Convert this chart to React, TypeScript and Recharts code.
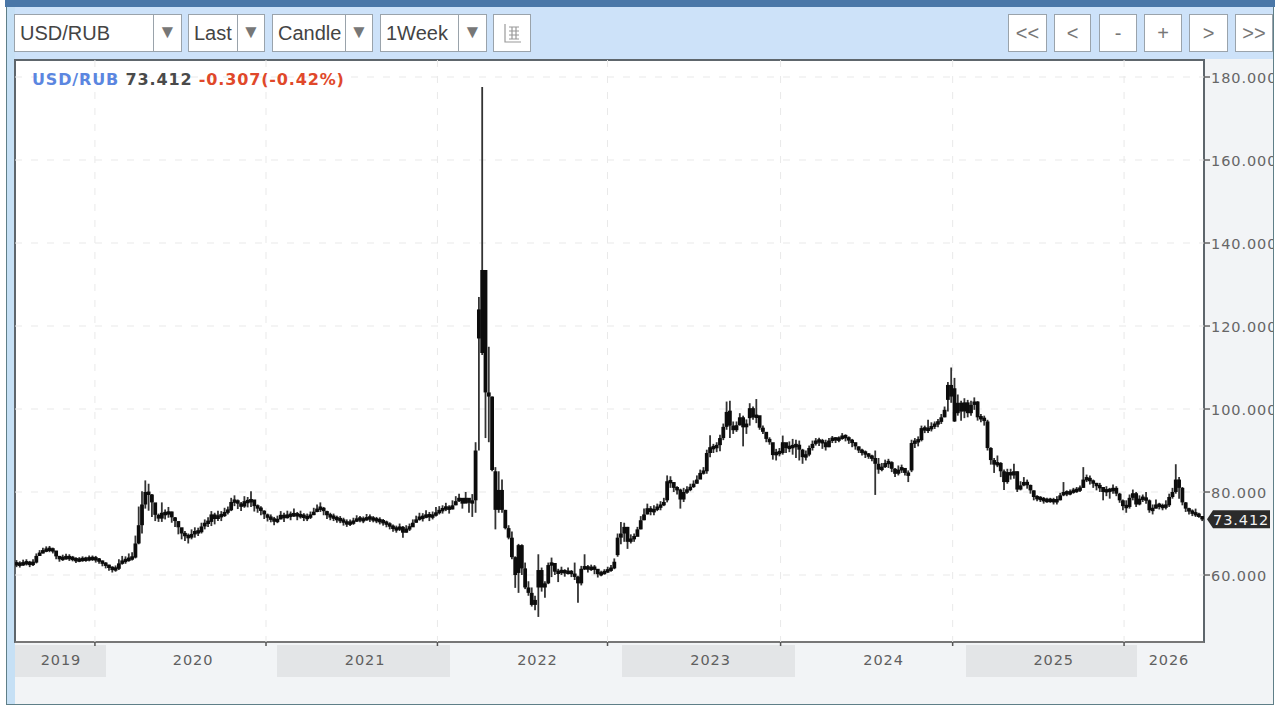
import { ComposedChart, Bar, XAxis, YAxis, CartesianGrid } from 'recharts';

// weekly closes, highs and lows, one block per calendar year
const closes2019 = [62.7, 62.5, 62.9, 63.0, 62.6, 63.0, 64.6, 65.4, 65.8, 66.2, 66.2, 65.9, 64.5, 63.9, 64.1, 64.3, 64.1, 63.9, 63.5, 63.7, 63.8, 63.8, 64.0, 64.0, 63.8];
const highs2019 = [63.6, 63.3, 63.7, 63.8, 63.4, 63.8, 65.2, 66.0, 66.6, 66.9, 67.0, 66.6, 65.8, 64.6, 64.9, 65.1, 65.0, 64.6, 64.3, 64.3, 64.5, 64.4, 64.7, 64.7, 64.6];
const lows2019 = [61.9, 61.8, 62.2, 62.3, 61.9, 62.2, 62.8, 64.6, 65.2, 65.5, 65.5, 65.2, 63.8, 63.2, 63.4, 63.7, 63.4, 63.3, 62.9, 63.1, 63.2, 63.2, 63.3, 63.4, 63.0];

const closes2020 = [63.4, 62.8, 62.4, 61.8, 61.4, 61.5, 62.8, 63.4, 63.6, 64.0, 64.2, 67.6, 72, 77, 80, 79.4, 77.5, 74.5, 73.6, 75, 74.6, 75.3, 73.9, 73, 71.5, 70, 69.5, 69, 69.9, 70.5, 70.3, 71.7, 72.6, 72.8, 74.6, 73.5, 74.4, 74.2, 75.2, 75.6, 77.6, 78, 77.2, 76.5, 77.8, 77.6, 78.2, 76.6, 76.2, 75.5, 74.6];
const highs2020 = [64.1, 63.5, 63.1, 62.5, 62.1, 62.3, 63.8, 64.6, 64.5, 65.2, 65.5, 69.5, 76.5, 80.2, 82.8, 82, 79.5, 76.5, 74.8, 77.5, 75.8, 76.4, 75.3, 74, 72.6, 71, 70.6, 70, 71, 71.5, 71.4, 72.6, 73.4, 73.9, 75.4, 75, 75.5, 75.4, 76.2, 76.5, 78.6, 79.2, 78.2, 77.6, 79, 78.8, 80.2, 77.9, 77, 76.6, 75.6];
const lows2020 = [62.7, 62.1, 61.6, 61, 60.6, 60.8, 61.2, 62.5, 62.7, 63.2, 63.5, 64, 67.4, 70, 76, 75.5, 74, 73, 72.8, 72.8, 73.4, 73.8, 72.6, 71.6, 69.8, 68.6, 68.2, 67.6, 68.6, 69, 69.4, 70, 71, 71.6, 71.8, 72.2, 73, 73, 74, 74.6, 75.4, 76.6, 75.9, 75.4, 76.2, 76.3, 76.4, 75.3, 75, 74.4, 73.5];

const closes2021 = [73.8, 73.6, 72.9, 73.4, 74.5, 73.7, 74.6, 74.2, 74.9, 74.1, 74.5, 73.8, 73.9, 74.5, 75.2, 76, 76.2, 75.4, 74.4, 74.1, 73.8, 73.4, 73.3, 72.7, 72.4, 72.6, 72.9, 73.6, 73.4, 73.2, 73.9, 73.6, 73.4, 73.2, 73, 72.7, 72.3, 71.8, 71.2, 71, 71.6, 70.2, 71.2, 71.5, 72.6, 73.4, 74, 73.8, 74.6, 74, 74.4, 75];
const highs2021 = [74.8, 74.6, 74, 74.3, 75.4, 75, 75.5, 75.3, 76, 75.2, 75.5, 74.9, 74.8, 75.3, 76.2, 77, 77.5, 76.4, 75.5, 75, 74.8, 74.3, 74.2, 73.8, 73.4, 73.4, 73.8, 74.4, 74.2, 74.1, 74.7, 74.6, 74.2, 74, 73.9, 73.5, 73.1, 72.7, 72.2, 71.9, 72.4, 71.8, 72, 72.4, 73.4, 74.3, 75, 74.9, 75.6, 75.2, 75.3, 76.4];
const lows2021 = [72.9, 72.7, 72, 72.5, 73.4, 72.8, 73.6, 73.2, 74, 73.2, 73.6, 73, 73, 73.5, 74.4, 75.1, 75.2, 74.4, 73.5, 73.2, 73, 72.6, 72.5, 71.9, 71.6, 71.8, 72.1, 72.8, 72.7, 72.5, 73.1, 72.8, 72.7, 72.5, 72.2, 71.9, 71.5, 71, 70.4, 70.2, 70.6, 69, 70.2, 70.6, 71.7, 72.6, 73.1, 72.9, 73.7, 73, 73.4, 74.1];

const closes2022 = [75.6, 75.9, 76.4, 75.8, 76.8, 77.8, 78.6, 77.2, 78.6, 77.4, 77.8, 90, 124, 113.5, 104, 103, 85.3, 75.7, 75.7, 75.7, 71.3, 69, 64.3, 60, 67.2, 61.6, 57, 55.7, 52.8, 54, 61.2, 57, 58, 62.4, 62.9, 60.8, 60.5, 61.2, 60.4, 60.9, 60.3, 59.6, 58, 61.5, 62, 61.4, 61.8, 61.5, 60.2, 60.4, 60.8, 61.2];
const highs2022 = [76.6, 76.8, 77.4, 76.8, 78, 79, 79.6, 78.4, 80, 78.4, 79.5, 92, 127, 177.6, 133.5, 115, 103, 86, 85, 83, 75.7, 72, 70.5, 64.5, 67.5, 67.4, 63, 58.5, 57, 55, 65, 61.8, 58.5, 63, 64.2, 62, 61.5, 62, 61.4, 61.8, 61.2, 63, 59.8, 62.2, 65, 62.4, 62.5, 62.4, 61.2, 61, 61.4, 62];
const lows2022 = [74.6, 74.8, 75.4, 74.8, 75.8, 76.8, 77.6, 76, 77.4, 75, 74, 75, 90, 113, 93, 92, 85, 71, 75, 75, 71, 68.6, 63.8, 56.9, 55.7, 60, 56.6, 55, 52.4, 51.5, 49.9, 56, 54.5, 57.8, 59.5, 60, 58.3, 60, 59.6, 60.1, 59.5, 58.8, 53.3, 57.5, 61.2, 60.6, 61, 60.2, 59.4, 59.7, 60.1, 60.5];

const closes2023 = [61.6, 63.2, 69, 70, 71.6, 68, 68.8, 69.2, 71, 73.2, 74.6, 76.1, 75.2, 75.8, 76.4, 76.8, 77.6, 82.6, 82.4, 81, 80.6, 78.2, 80, 80.5, 81.2, 82, 83, 84.6, 85, 89.4, 90.8, 90.6, 91.3, 93, 95.7, 99.3, 96, 94.9, 96.1, 98, 95.6, 96.5, 100.2, 98, 98.5, 95.5, 94.5, 92.8, 92, 88.9, 89.6, 89.4];
const highs2023 = [62.4, 64, 70, 72.8, 72.6, 71.6, 69.8, 70, 71.6, 74.2, 76, 77.2, 76.6, 76.8, 77.2, 77.8, 78.6, 84, 83.8, 82.4, 81.4, 80.8, 81, 81.4, 82, 82.8, 84, 85.4, 86, 90.2, 93.7, 91.6, 92, 93.8, 96.5, 101.8, 102, 97, 97, 99, 98.4, 97.5, 101.4, 100.6, 102.4, 98, 96, 94, 93.2, 91.8, 90.4, 90.6];
const lows2023 = [60.8, 61.4, 64.4, 67.4, 68, 66.3, 67.6, 68, 69.4, 71, 73.2, 74.6, 74.4, 74.4, 75.4, 75.6, 76.6, 77.5, 81, 80, 79.4, 76, 77.6, 79.6, 80.2, 81, 82, 83.6, 84.2, 84.4, 88.4, 89.4, 89.6, 89.8, 92.5, 95, 93, 94, 94.5, 96, 91, 94, 96, 97.4, 96.6, 95, 94, 92, 91.4, 87.8, 87.6, 88.6];

const closes2024 = [92, 90.6, 90.9, 91, 91.4, 90.2, 88.4, 89, 90.6, 91.6, 92.4, 92.2, 92, 90.8, 92.4, 93, 92.6, 92.9, 93.5, 93.2, 92.4, 92, 91, 90, 89.6, 89.2, 88.6, 88.2, 86.8, 85.4, 86, 87, 87.2, 85.6, 84.4, 85.4, 85.8, 84.6, 84, 91.8, 92.2, 92.5, 95.4, 95, 95.2, 95.8, 96.4, 96.9, 98, 99.8, 105.8, 103];
const highs2024 = [93.6, 91.8, 92.2, 92.8, 92.6, 92.4, 90.4, 90, 91.2, 92.4, 93, 93.1, 92.8, 92.6, 93, 93.5, 93.2, 93.4, 94.2, 93.9, 93.4, 92.8, 91.9, 91, 90.4, 90, 89.4, 89, 90, 88.2, 87, 87.8, 88, 87.4, 85.8, 86.4, 86.6, 85.8, 85.2, 92.6, 93, 93.4, 96, 96, 97.4, 96.8, 97, 97.6, 98.8, 100.6, 106.5, 110];
const lows2024 = [89, 89.4, 89.6, 89, 88.2, 87.6, 86.8, 87.6, 88.6, 90, 91.2, 91.1, 90.4, 90, 90.8, 91.8, 91.8, 92, 92.6, 92.2, 91.6, 90.8, 90.2, 89.4, 88.8, 88.2, 88, 87.4, 79.3, 84.4, 85, 85.8, 85.8, 84.8, 83.6, 84, 84.6, 84, 82.4, 84.8, 90.6, 91, 92.2, 94.2, 94.2, 94.6, 95.2, 95.6, 96.4, 98, 99.4, 101.5];

const closes2025 = [97, 101.5, 99.4, 101.6, 99, 101, 101.8, 98, 97.8, 97.2, 90.6, 87.7, 86.6, 87, 85, 82.4, 84.8, 84, 85, 80.6, 81.6, 82.4, 81.7, 80.4, 78.8, 78.5, 78.4, 77.9, 78, 78, 77.8, 78, 79.2, 80, 79.6, 80, 80.4, 80.4, 81, 83, 83.4, 82.6, 82.2, 81.4, 81.2, 80, 80.6, 80.2, 81, 79.6, 78, 76.6];
const highs2025 = [107.5, 103.5, 102, 102.6, 102.2, 102, 102.8, 101.9, 98.8, 98.4, 97.4, 90.8, 88.2, 88.8, 87.2, 85.4, 85.6, 85.6, 86.8, 85, 82.6, 83.6, 83, 81.8, 80.4, 79.2, 79, 78.8, 78.6, 78.6, 78.6, 79, 79.8, 82.4, 80.4, 80.6, 81, 81.2, 81.6, 86, 84.2, 84, 83, 82.2, 82.2, 81.2, 81.4, 81, 81.8, 81.4, 79.8, 78.2];
const lows2025 = [96.9, 98.4, 97.2, 97.8, 98, 98.4, 99.8, 97.2, 96.8, 96, 90, 86.6, 84.6, 86, 83.6, 80.5, 82, 83, 83.2, 80, 80.4, 81.4, 80.8, 79.6, 78, 77.8, 77.6, 77.2, 77.4, 77.4, 77, 77, 78, 79, 79, 79.2, 79.6, 79.8, 80, 81, 82.4, 81.8, 81, 80.4, 80, 78, 79, 78.4, 79.6, 79, 77.4, 75.6];

const closes2026 = [76.4, 78.6, 79.7, 77, 78.4, 78.6, 78, 75.6, 76, 77, 76.6, 76.4, 76.8, 78.8, 80, 83, 81, 77.5, 76, 75.4, 74.9, 74.6, 74.2, 73.412];
const highs2026 = [78, 79.4, 80.6, 80, 79.2, 79.4, 80, 78.2, 77, 78.2, 77.4, 77.2, 78, 79.6, 81, 86.7, 83.6, 81.2, 77.6, 76.2, 75.8, 76, 75, 74];
const lows2026 = [75, 76, 78, 76.4, 76.8, 77.6, 77.2, 75, 74.6, 76, 75.8, 75.6, 75.8, 76.4, 78.4, 79.6, 78.4, 76.8, 75.2, 74.6, 74.2, 74, 73.8, 73];

// weeks where the candle does not open at the previous close
const gapOpens: Record<number, number> = {
  139: 78, 140: 117, 141: 133.5, 142: 133.5, 143: 104, 144: 103, 145: 85, 146: 80.5, 147: 80.5,
  152: 60.5, 158: 57, 182: 64.8, 197: 78, 209: 85, 216: 99.6, 222: 97.8, 271: 85.2, 282: 102.2,
  284: 105, 285: 99, 294: 97,
};

const priceTicks = [60, 80, 100, 120, 140, 160, 180];
const lastPrice = 73.412;
const yearStarts = [24.2, 76, 127.9, 179.4, 231.8, 283.9, 335.8];
const yearLabels = ['2019', '2020', '2021', '2022', '2023', '2024', '2025', '2026'];
const yearLabelWeeks = [13.9, 53.9, 106, 158.2, 210.6, 263, 314.5, 349.4];
const yearBands = [[0, 27.6], [79.4, 131.8], [183.9, 236.4], [288.2, 340]];

const closes = [...closes2019, ...closes2020, ...closes2021, ...closes2022, ...closes2023, ...closes2024, ...closes2025, ...closes2026];
const highs = [...highs2019, ...highs2020, ...highs2021, ...highs2022, ...highs2023, ...highs2024, ...highs2025, ...highs2026];
const lows = [...lows2019, ...lows2020, ...lows2021, ...lows2022, ...lows2023, ...lows2024, ...lows2025, ...lows2026];

const chartData = closes.map((close, i) => ({
  week: i + 0.5,
  open: gapOpens[i] ?? (i ? closes[i - 1] : close),
  close,
  high: highs[i],
  low: lows[i],
}));

const WEEK_PX = 3.3;
const LABEL = 'DejaVu Sans, sans-serif';
const UI = 'Liberation Sans, Arial, sans-serif';

function Candle(props: any) {
  const { x, y, width, height, payload } = props;
  const h = Math.abs(height);
  const ppu = h / (payload.high - payload.low || 1);
  const mid = y + (payload.high - (payload.open + payload.close) / 2) * ppu;
  const bodyH = Math.max(Math.abs(payload.open - payload.close) * ppu, 3.4);
  const cx = x + width / 2;
  return (
    <g>
      <line x1={cx} x2={cx} y1={y} y2={y + h} stroke="#333" strokeWidth={1.8} />
      <rect x={cx - 1.9} y={mid - bodyH / 2} width={3.8} height={bodyH} fill="#0c0c0c" />
    </g>
  );
}

function PriceTick(props: any) {
  const { y, payload } = props;
  const x = 1204; // right edge of the plot frame
  if (payload.value === lastPrice) {
    return (
      <g>
        <path d={`M${x + 3} ${y}l6 -9h57v18h-57z`} fill="#2b2b2b" />
        <text x={x + 9} y={y + 5.5} fontSize={14.5} letterSpacing={0.9} fill="#f2f2f2" fontFamily={LABEL}>{lastPrice.toFixed(3)}</text>
      </g>
    );
  }
  return (
    <g>
      <line x1={x} x2={x + 6} y1={y} y2={y} stroke="#666" strokeWidth={1.5} />
      <text x={x + 7} y={y + 5.5} fontSize={14.5} letterSpacing={0.9} fill="#666" fontFamily={LABEL}>{payload.value.toFixed(3)}</text>
    </g>
  );
}

function YearTick(props: any) {
  const { x, payload } = props;
  const labelAt = yearLabelWeeks.indexOf(payload.value);
  if (labelAt < 0) {
    return <line x1={x} x2={x} y1={642} y2={646} stroke="#555" strokeWidth={1.5} />;
  }
  return (
    <text x={x} y={665} textAnchor="middle" fontSize={14.5} letterSpacing={0.9} fill="#5f5f5f" fontFamily={LABEL}>
      {yearLabels[labelAt]}
    </text>
  );
}

function Box({ left, width, divider, children, align }: any) {
  return (
    <div style={{ position: 'absolute', left, top: 14, width, height: 38, boxSizing: 'border-box', background: '#fff', border: '1px solid #9aa3ab', color: align ? '#777' : '#444', fontFamily: UI, fontSize: 20, lineHeight: '36px', paddingLeft: align ? 0 : 5, textAlign: align || 'left', overflow: 'hidden', whiteSpace: 'nowrap' }}>
      {children}
      {divider != null && (
        <div style={{ position: 'absolute', left: divider - left - 1, top: 0, right: 0, bottom: 0, background: '#fff', borderLeft: '1px solid #9aa3ab', color: '#777', fontSize: 19, textAlign: 'center', lineHeight: '34px' }}>▼</div>
      )}
    </div>
  );
}

export default function App() {
  return (
    <div style={{ position: 'fixed', left: 0, top: 0, width: 1280, height: 714, background: '#fff', overflow: 'hidden' }}>
      <div style={{ position: 'absolute', left: 6, top: 0, width: 1268, height: 705, boxSizing: 'border-box', border: '1px solid #5f7f88', borderTop: 'none', background: '#f2f4f6' }} />
      <div style={{ position: 'absolute', left: 7, top: 7, width: 1266, height: 52, background: '#cde2f9' }} />
      <div style={{ position: 'absolute', left: 7, top: 7, width: 8, height: 697, background: '#c6e0f5' }} />
      <div style={{ position: 'absolute', left: 5, top: 0, width: 1270, height: 7, background: '#4a77a8' }} />

      <Box left={14} width={168} divider={153}>USD/RUB</Box>
      <Box left={188} width={77} divider={237}>Last</Box>
      <Box left={272} width={101} divider={345}>Candle</Box>
      <Box left={380} width={107} divider={458}>1Week</Box>
      <Box left={493} width={38} align="center">
        <svg width={20} height={22} style={{ marginTop: 7 }}>
          <path d="M3 2v18h16M7 5h10M7 9h10M7 13h10M7 17h10M10 5v12M14 5v12" stroke="#9a9a9a" strokeWidth={1.2} fill="none" />
        </svg>
      </Box>
      <Box left={1008} width={39} align="center">&lt;&lt;</Box>
      <Box left={1054} width={37} align="center">&lt;</Box>
      <Box left={1099} width={38} align="center">-</Box>
      <Box left={1144} width={38} align="center">+</Box>
      <Box left={1189} width={39} align="center">&gt;</Box>
      <Box left={1235} width={38} align="center">&gt;&gt;</Box>

      {yearBands.map(([a, b]) => (
        <div key={a} style={{ position: 'absolute', left: 15 + a * WEEK_PX, top: 645, width: (b - a) * WEEK_PX, height: 32, background: '#e3e5e7' }} />
      ))}
      <div style={{ position: 'absolute', left: 14, top: 59, width: 1191, height: 584, boxSizing: 'border-box', background: '#fff', border: '2px solid #5e666c', borderBottomColor: '#777' }} />

      <div style={{ position: 'absolute', left: 0, top: 0 }}>
        <ComposedChart width={1273} height={704} data={chartData} margin={{ top: 60, right: 0, bottom: 0, left: 15 }}>
          <CartesianGrid stroke="#e9e9e9" strokeDasharray="7 9" horizontalValues={priceTicks} verticalValues={yearStarts} />
          <XAxis
            dataKey="week"
            type="number"
            domain={[0, 360]}
            ticks={[...yearStarts, ...yearLabelWeeks]}
            interval={0}
            height={62}
            axisLine={false}
            tickLine={false}
            tick={YearTick}
            tickMargin={0}
            allowDataOverflow
          />
          <YAxis
            orientation="right"
            type="number"
            domain={[43.86, 184.1]}
            ticks={[...priceTicks, lastPrice]}
            interval={0}
            width={69}
            axisLine={false}
            tickLine={false}
            tick={PriceTick}
            tickMargin={0}
            allowDataOverflow
          />
          <Bar dataKey={(d: any) => [d.low, d.high]} barSize={3} shape={Candle} isAnimationActive={false} />
        </ComposedChart>
      </div>

      <div style={{ position: 'absolute', left: 32, top: 70, fontFamily: LABEL, fontWeight: 700, fontSize: 16, letterSpacing: 0.85, whiteSpace: 'nowrap' }}>
        <span style={{ color: '#5b86e0' }}>USD/RUB</span>{' '}
        <span style={{ color: '#4a4a4a' }}>73.412</span>{' '}
        <span style={{ color: '#e0482a' }}>-0.307(-0.42%)</span>
      </div>
    </div>
  );
}
